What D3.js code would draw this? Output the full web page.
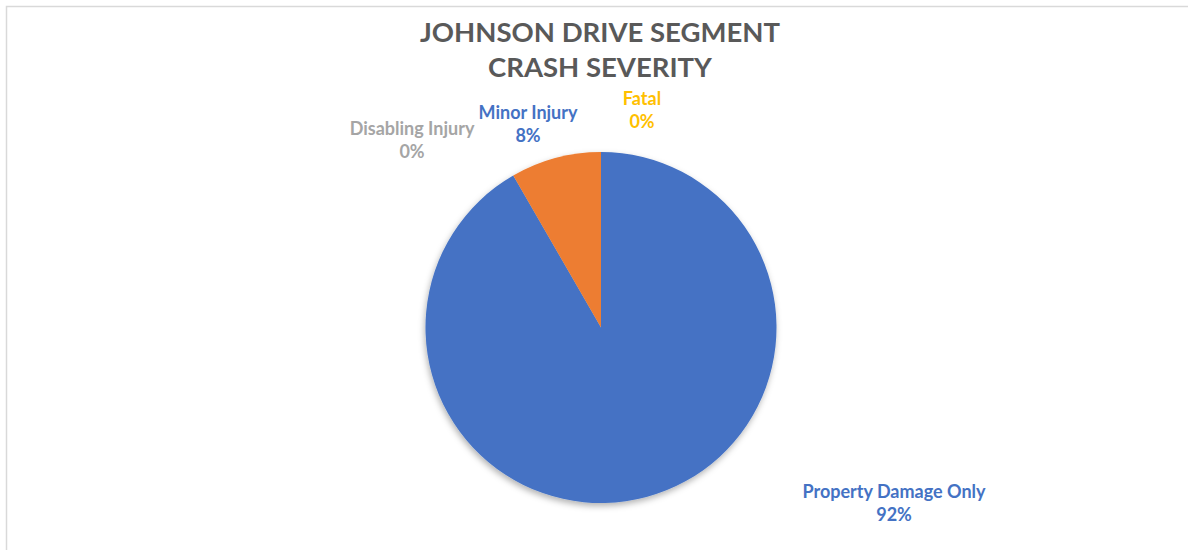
<!DOCTYPE html>
<html>
<head>
<meta charset="utf-8">
<script src="https://cdn.jsdelivr.net/npm/d3@7"></script>
<style>
  html, body { margin: 0; padding: 0; background: #fff; }
  svg { display: block; font-family: Lato, "Open Sans", sans-serif; }
</style>
</head>
<body>
<div id="chart"></div>
<script>
// data
const titleLines = ["JOHNSON DRIVE SEGMENT", "CRASH SEVERITY"];
const categories = ["Property Damage Only", "Minor Injury", "Disabling Injury", "Fatal"];
const crashCounts = [11, 1, 0, 0];
const sliceColors = ["#4472C4", "#ED7D31", "#A5A5A5", "#FFC000"];
const labelColors = ["#4472C4", "#4472C4", "#A5A5A5", "#FFC000"];

// layout
const width = 1188, height = 550;
const cx = 601, cy = 327.5, radius = 175.5;
// label anchor offsets (from pie centre), first line baseline
const labelOffsets = [[293, 170], [-73, -209], [-189, -193], [41, -223]];

const svg = d3.select("#chart").append("svg")
  .attr("width", width)
  .attr("height", height);

// frame
svg.append("path")
  .attr("d", `M6.5,${height} V6.5 H${width}`)
  .attr("fill", "none")
  .attr("stroke", "#d9d9d9")
  .attr("stroke-width", 1.5);

const defs = svg.append("defs");
const shadow = defs.append("filter")
  .attr("id", "shadow")
  .attr("x", "-10%").attr("y", "-10%")
  .attr("width", "120%").attr("height", "120%");
shadow.append("feDropShadow")
  .attr("dx", -1).attr("dy", 3)
  .attr("stdDeviation", 3)
  .attr("flood-color", "#000")
  .attr("flood-opacity", 0.3);

// title
svg.append("g")
  .selectAll("text")
  .data(titleLines)
  .enter().append("text")
    .attr("x", 600)
    .attr("y", (d, i) => 42 + i * 35)
    .attr("text-anchor", "middle")
    .attr("fill", "#595959")
    .style("font-size", "27.5px")
    .style("font-weight", 700)
    .text(d => d);

const pie = d3.pie().sort(null).value(d => d);
const arcs = pie(crashCounts);
const arc = d3.arc().innerRadius(0).outerRadius(radius);
const total = d3.sum(crashCounts);

const g = svg.append("g")
  .attr("transform", `translate(${cx},${cy})`);

g.append("g")
  .attr("filter", "url(#shadow)")
  .selectAll("path")
  .data(arcs)
  .enter().append("path")
    .attr("d", arc)
    .attr("fill", (d, i) => sliceColors[i]);

// labels
const labels = g.append("g")
  .style("font-size", "18px")
  .style("font-weight", 700)
  .selectAll("text")
  .data(arcs)
  .enter().append("text")
    .attr("text-anchor", "middle")
    .attr("fill", (d, i) => labelColors[i])
    .attr("transform", (d, i) => `translate(${labelOffsets[i][0]},${labelOffsets[i][1]})`);

labels.append("tspan")
  .attr("x", 0)
  .attr("y", 0)
  .text((d, i) => categories[i]);
labels.append("tspan")
  .attr("x", 0)
  .attr("y", 23)
  .text(d => `${Math.round(d.value / total * 100)}%`);
</script>
</body>
</html>
